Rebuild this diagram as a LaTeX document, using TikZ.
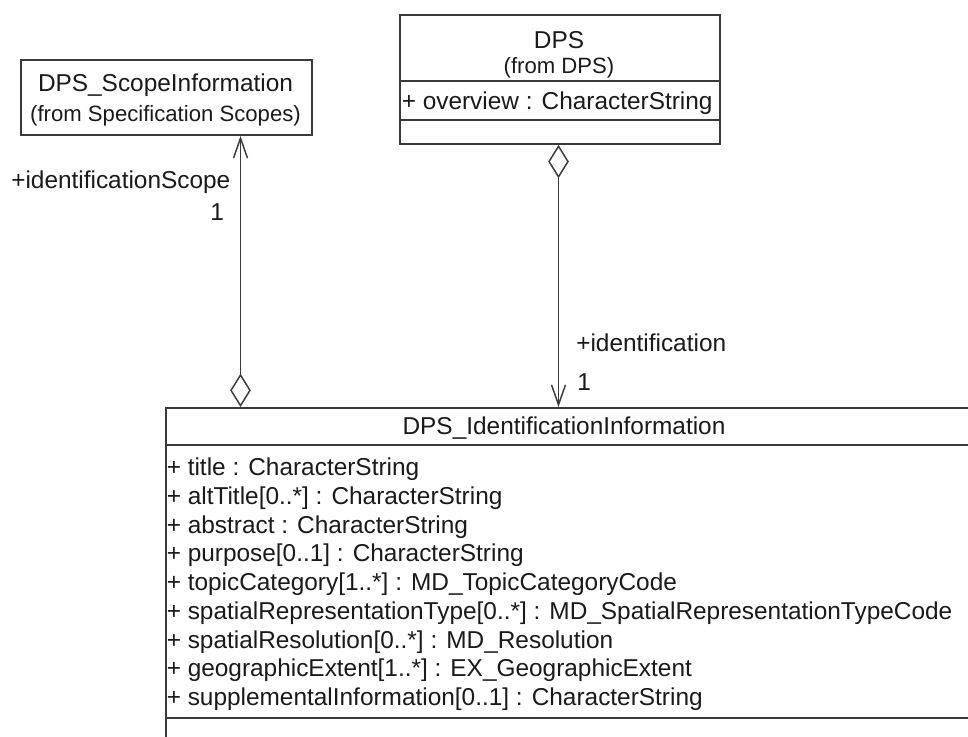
\documentclass[tikz,border=0pt]{standalone}
\usepackage{fontspec}
\setmainfont{Liberation Sans}
\usetikzlibrary{arrows.meta}
\definecolor{linegray}{HTML}{3A3A3A}
\definecolor{textblack}{HTML}{1A1A1A}
\begin{document}
\begin{tikzpicture}[x=0.75pt,y=-0.75pt,
  box/.style={draw=linegray, line width=1.4pt, inner sep=0pt, anchor=north west},
  txt/.style={inner sep=0pt, font=\fontsize{18.3pt}{22pt}\selectfont, text=textblack},
  stereo/.style={inner sep=0pt, font=\fontsize{16.6pt}{20pt}\selectfont, text=textblack},
  divider/.style={draw=linegray, line width=1.4pt},
  assoc/.style={draw=linegray, line width=1.1pt,
    {Diamond[open,length=25pt,width=15.5pt]}-{Straight Barb[length=15pt,width=10.5pt]}}
]
\useasboundingbox (0,0) rectangle (968,736);
\fill[white] (0,0) rectangle (968,736);
\clip (0,0) rectangle (968,736);

% DPS_ScopeInformation
\node[box, minimum width=218.25pt, minimum height=56.25pt] (scope) at (20,59) {};
\node[txt, anchor=base] (scopename) at (165.5,91.7) {DPS\_ScopeInformation};
\node[stereo, anchor=base] (scopefrom) at (165.5,121) {(from Specification Scopes)};

% DPS
\node[box, minimum width=240pt, minimum height=96.75pt] (dps) at (399,14) {};
\node[txt, anchor=base] (dpsname) at (559,48.7) {DPS};
\node[stereo, anchor=base] (dpsfrom) at (559,73) {(from DPS)};
\draw[divider] (399,81) -- (719,81);
\draw[divider] (399,120) -- (719,120);
\node[txt, anchor=base west] (dpsattr) at (401.5,109.7) {+ overview : CharacterString};

% DPS_IdentificationInformation
\node[box, minimum width=607.5pt, minimum height=300pt] (ident) at (165,407) {};
\node[txt, anchor=base] (identname) at (564,434.7) {DPS\_IdentificationInformation};
\draw[divider] (165,445) -- (975,445);
\draw[divider] (165,718) -- (975,718);
\foreach \t [count=\i from 0] in {
  {+ title : CharacterString},
  {+ altTitle[0..*] : CharacterString},
  {+ abstract : CharacterString},
  {+ purpose[0..1] : CharacterString},
  {+ topicCategory[1..*] : MD\_TopicCategoryCode},
  {+ spatialRepresentationType[0..*] : MD\_SpatialRepresentationTypeCode},
  {+ spatialResolution[0..*] : MD\_Resolution},
  {+ geographicExtent[1..*] : EX\_GeographicExtent},
  {+ supplementalInformation[0..1] : CharacterString}}
  \node[txt, anchor=base west] (attr\i) at (166.5,{475.7+28.75*\i}) {\t};

% connectors
\coordinate (sx) at (240.5,0);
\coordinate (dx) at (558.5,0);
\draw[assoc] (ident.north -| sx) -- (scope.south -| sx);
\draw[assoc] (dps.south -| dx) -- (ident.north -| dx);

% role names and multiplicities
\node[txt, anchor=base west] (rolescope) at (11,188.7) {+identificationScope};
\node[txt, anchor=base west] (mulscope) at (210,220.7) {1};
\node[txt, anchor=base west] (roleid) at (576,351.7) {+identification};
\node[txt, anchor=base west] (mulid) at (577,390.7) {1};
\end{tikzpicture}
\end{document}
